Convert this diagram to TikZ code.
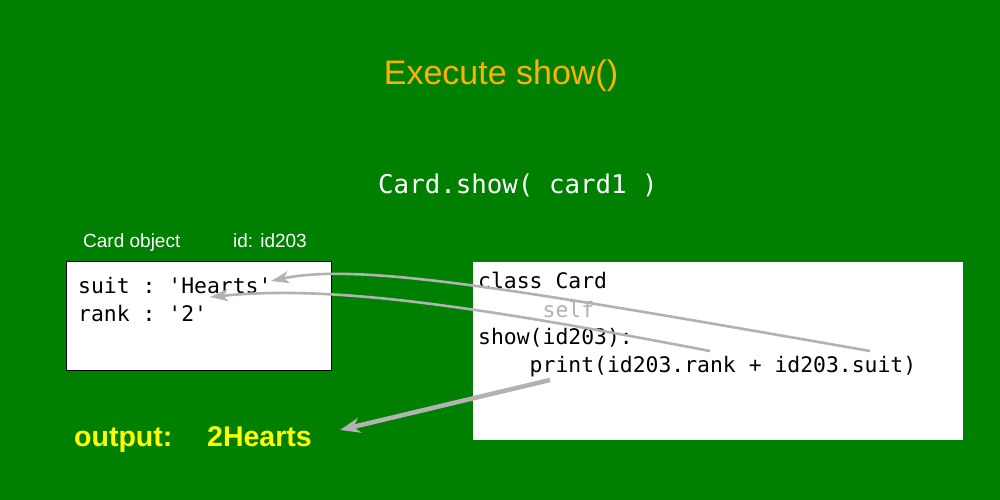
\documentclass[tikz,border=0pt]{standalone}
\usepackage{fontspec}
\setmainfont{Liberation Sans}
\setmonofont{DejaVu Sans Mono}
\usetikzlibrary{arrows.meta}
\definecolor{bggreen}{RGB}{0,128,0}
\definecolor{titleorange}{RGB}{255,176,0}
\definecolor{outyellow}{RGB}{255,255,0}
\definecolor{arrowgray}{RGB}{178,178,178}
\begin{document}
\begin{tikzpicture}[x=1pt,y=-1pt,
    code/.style={anchor=base west,inner sep=0pt,font=\ttfamily\fontsize{21.4}{25}\selectfont},
    caption/.style={anchor=base west,inner sep=0pt,text=white,font=\fontsize{19}{22}\selectfont},
    pointer/.style={draw=arrowgray,line width=2.6pt,-{Stealth[length=18pt,width=12pt,inset=5pt]}},
    bigpointer/.style={draw=arrowgray,line width=4.5pt,-{Stealth[length=20pt,width=15pt,inset=6pt]}}]
  % background and boxes
  \fill[bggreen] (0,0) rectangle (1000,500);
  \useasboundingbox (0,0) rectangle (1000,500);
  \draw[fill=white,line width=0.8pt] (66,261) rectangle (331,370);
  \fill[white] (473,262) rectangle (963,440);
  % texts
  \node[anchor=base,inner sep=0pt,text=titleorange,font=\fontsize{34}{40}\selectfont] (title) at (501,85) {Execute show()};
  \node[code,text=white,font=\ttfamily\fontsize{25.8}{30}\selectfont] (call) at (378,193) {Card.show( card1 )};
  \node[caption] (objname) at (83,247) {Card object};
  \node[caption] (objid) at (233,247) {id: id203};
  \node[code] (suitline) at (78,293) {suit : 'Hearts'};
  \node[code] (rankline) at (78,321) {rank : '2'};
  \node[code] (classline) at (478,288) {class Card};
  \node[code,text=arrowgray] (selfline) at (478,317) {\ \ \ \ \ self};
  \node[code] (showline) at (478,344) {show(id203):};
  \node[code] (printline) at (478,372) {\ \ \ \ print(id203.rank + id203.suit)};
  \node[anchor=base west,inner sep=0pt,text=outyellow,font=\bfseries\fontsize{28.5}{34}\selectfont] (outlabel) at (74,446) {output:};
  \node[anchor=base west,inner sep=0pt,text=outyellow,font=\bfseries\fontsize{28.5}{34}\selectfont] (outvalue) at (207,446) {2Hearts};
  % pointers
  \coordinate (suitref) at (870,351);
  \coordinate (suittip) at (271,281);
  \coordinate (rankref) at (710,351);
  \coordinate (ranktip) at (210,297);
  \coordinate (printref) at (550,380);
  \coordinate (outtip) at (340,430);
  \draw[pointer] (suitref) .. controls (520,290) and (360,262) .. (suittip);
  \draw[pointer] (rankref) .. controls (470,305) and (330,285) .. (ranktip);
  \draw[bigpointer] (printref) -- (outtip);
\end{tikzpicture}
\end{document}
